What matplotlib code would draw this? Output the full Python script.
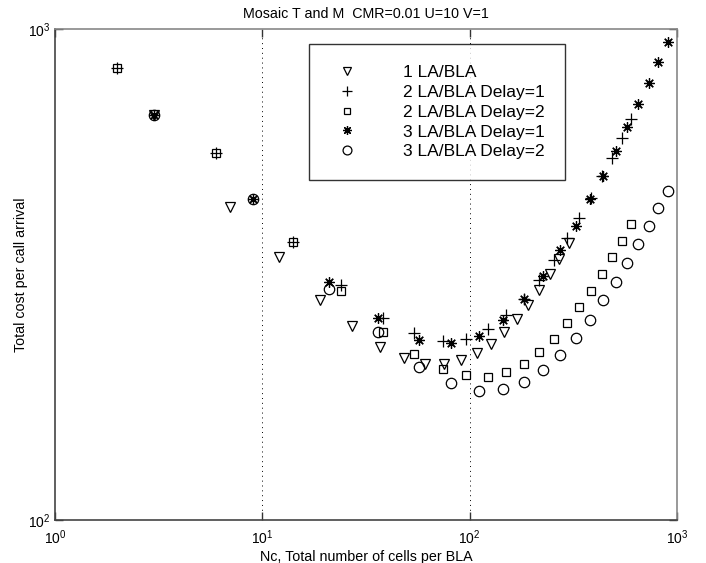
import matplotlib
matplotlib.use("Agg")
import matplotlib.pyplot as plt
from matplotlib.ticker import FixedLocator, NullLocator

plt.rcParams['font.family'] = ['Liberation Sans', 'DejaVu Sans']
plt.rcParams['mathtext.fontset'] = 'custom'
plt.rcParams['mathtext.rm'] = 'Liberation Sans'

# 1 LA/BLA
x1 = [3, 7, 12, 19, 27, 37, 48, 61, 75, 91, 108, 127, 147, 169, 192, 217, 243, 271, 300]
y1 = [668, 435, 344, 281, 248, 225, 214, 208, 208, 212, 219, 228, 242, 257, 274, 294, 317, 340, 366]

# 2 LA/BLA (Delay=1 and Delay=2)
x2 = [2, 6, 14, 24, 38, 54, 74, 96, 122, 150, 182, 216, 254, 294, 338, 384, 434, 486, 542, 600]
y2d1 = [834, 558, 369, 301, 258, 240, 232, 234, 245, 262, 282, 308, 338, 375, 413, 452, 502, 547, 599, 656]
y2d2 = [834, 558, 369, 293, 242, 218, 203, 197, 196, 200, 208, 220, 234, 252, 271, 293, 317, 343, 370, 400]

# 3 LA/BLA (Delay=1 and Delay=2)
x3 = [3, 9, 21, 36, 57, 81, 111, 144, 183, 225, 273, 324, 381, 441, 507, 576, 651, 729, 813, 900]
y3d1 = [668, 450, 306, 258, 233, 229, 237, 255, 282, 314, 354, 397, 450, 502, 565, 632, 703, 777, 858, 942]
y3d2 = [668, 450, 296, 241, 205, 190, 183, 185, 191, 202, 217, 235, 256, 280, 306, 334, 365, 397, 431, 468]

labels = ['1 LA/BLA', '2 LA/BLA Delay=1', '2 LA/BLA Delay=2',
          '3 LA/BLA Delay=1', '3 LA/BLA Delay=2']

W, H = 706, 563
fig = plt.figure(figsize=(W / 100, H / 100), dpi=100)
L, R, T, B = 55, 677, 29, 520
ax = fig.add_axes([L / W, 1 - B / H, (R - L) / W, (B - T) / H])
ax.set_xscale('log')
ax.set_yscale('log')
ax.set_xlim(1, 1000)
ax.set_ylim(100, 1000)

kw = dict(linestyle='none', color='black', markerfacecolor='none', markeredgewidth=0.9)
ax.plot(x1, y1, marker='v', markersize=7.5, label=labels[0], **kw)
ax.plot(x2, y2d1, marker='+', markersize=8, label=labels[1], **kw)
ax.plot(x2, y2d2, marker='s', markersize=5.5, label=labels[2], **kw)
ax.plot(x3, y3d1, marker=(8, 2, 0), markersize=7.5, label=labels[3], **kw)
ax.plot(x3, y3d2, marker='o', markersize=7.5, label=labels[4], **kw)

ax.xaxis.set_major_locator(FixedLocator([1, 10, 100, 1000]))
ax.yaxis.set_major_locator(FixedLocator([100, 1000]))
ax.xaxis.set_minor_locator(NullLocator())
ax.yaxis.set_minor_locator(NullLocator())
ax.tick_params(which='both', direction='in', top=True, right=True, length=6,
               width=1, labelsize=10, color='#333333')
ax.tick_params(axis='x', pad=6)
for v in [10, 100]:
    ax.axvline(v, color='black', linestyle=(0, (1, 4)), linewidth=0.7, zorder=0)
for name, s in ax.spines.items():
    s.set_color('#444444' if name in ('left', 'bottom') else '#888888')
    s.set_linewidth(1.2)

ax.set_title('Mosaic T and M  CMR=0.01 U=10 V=1', fontsize=10.3, pad=8)
ax.set_xlabel('Nc, Total number of cells per BLA', fontsize=10.3, labelpad=2)
ax.set_ylabel('Total cost per call arrival', fontsize=10.3, labelpad=-0.5)

leg = ax.legend(loc='upper left', bbox_to_anchor=(309 / W, 1 - 44 / H),
                bbox_transform=fig.transFigure, borderaxespad=0,
                fontsize=12.5, frameon=True, fancybox=False, shadow=False,
                borderpad=1.2, handlelength=2.0, handletextpad=2.2,
                labelspacing=0.27, numpoints=1, markerscale=0.85)
leg.get_frame().set_edgecolor('black')
leg.get_frame().set_linewidth(1.0)

fig.savefig('out.png', dpi=100)
